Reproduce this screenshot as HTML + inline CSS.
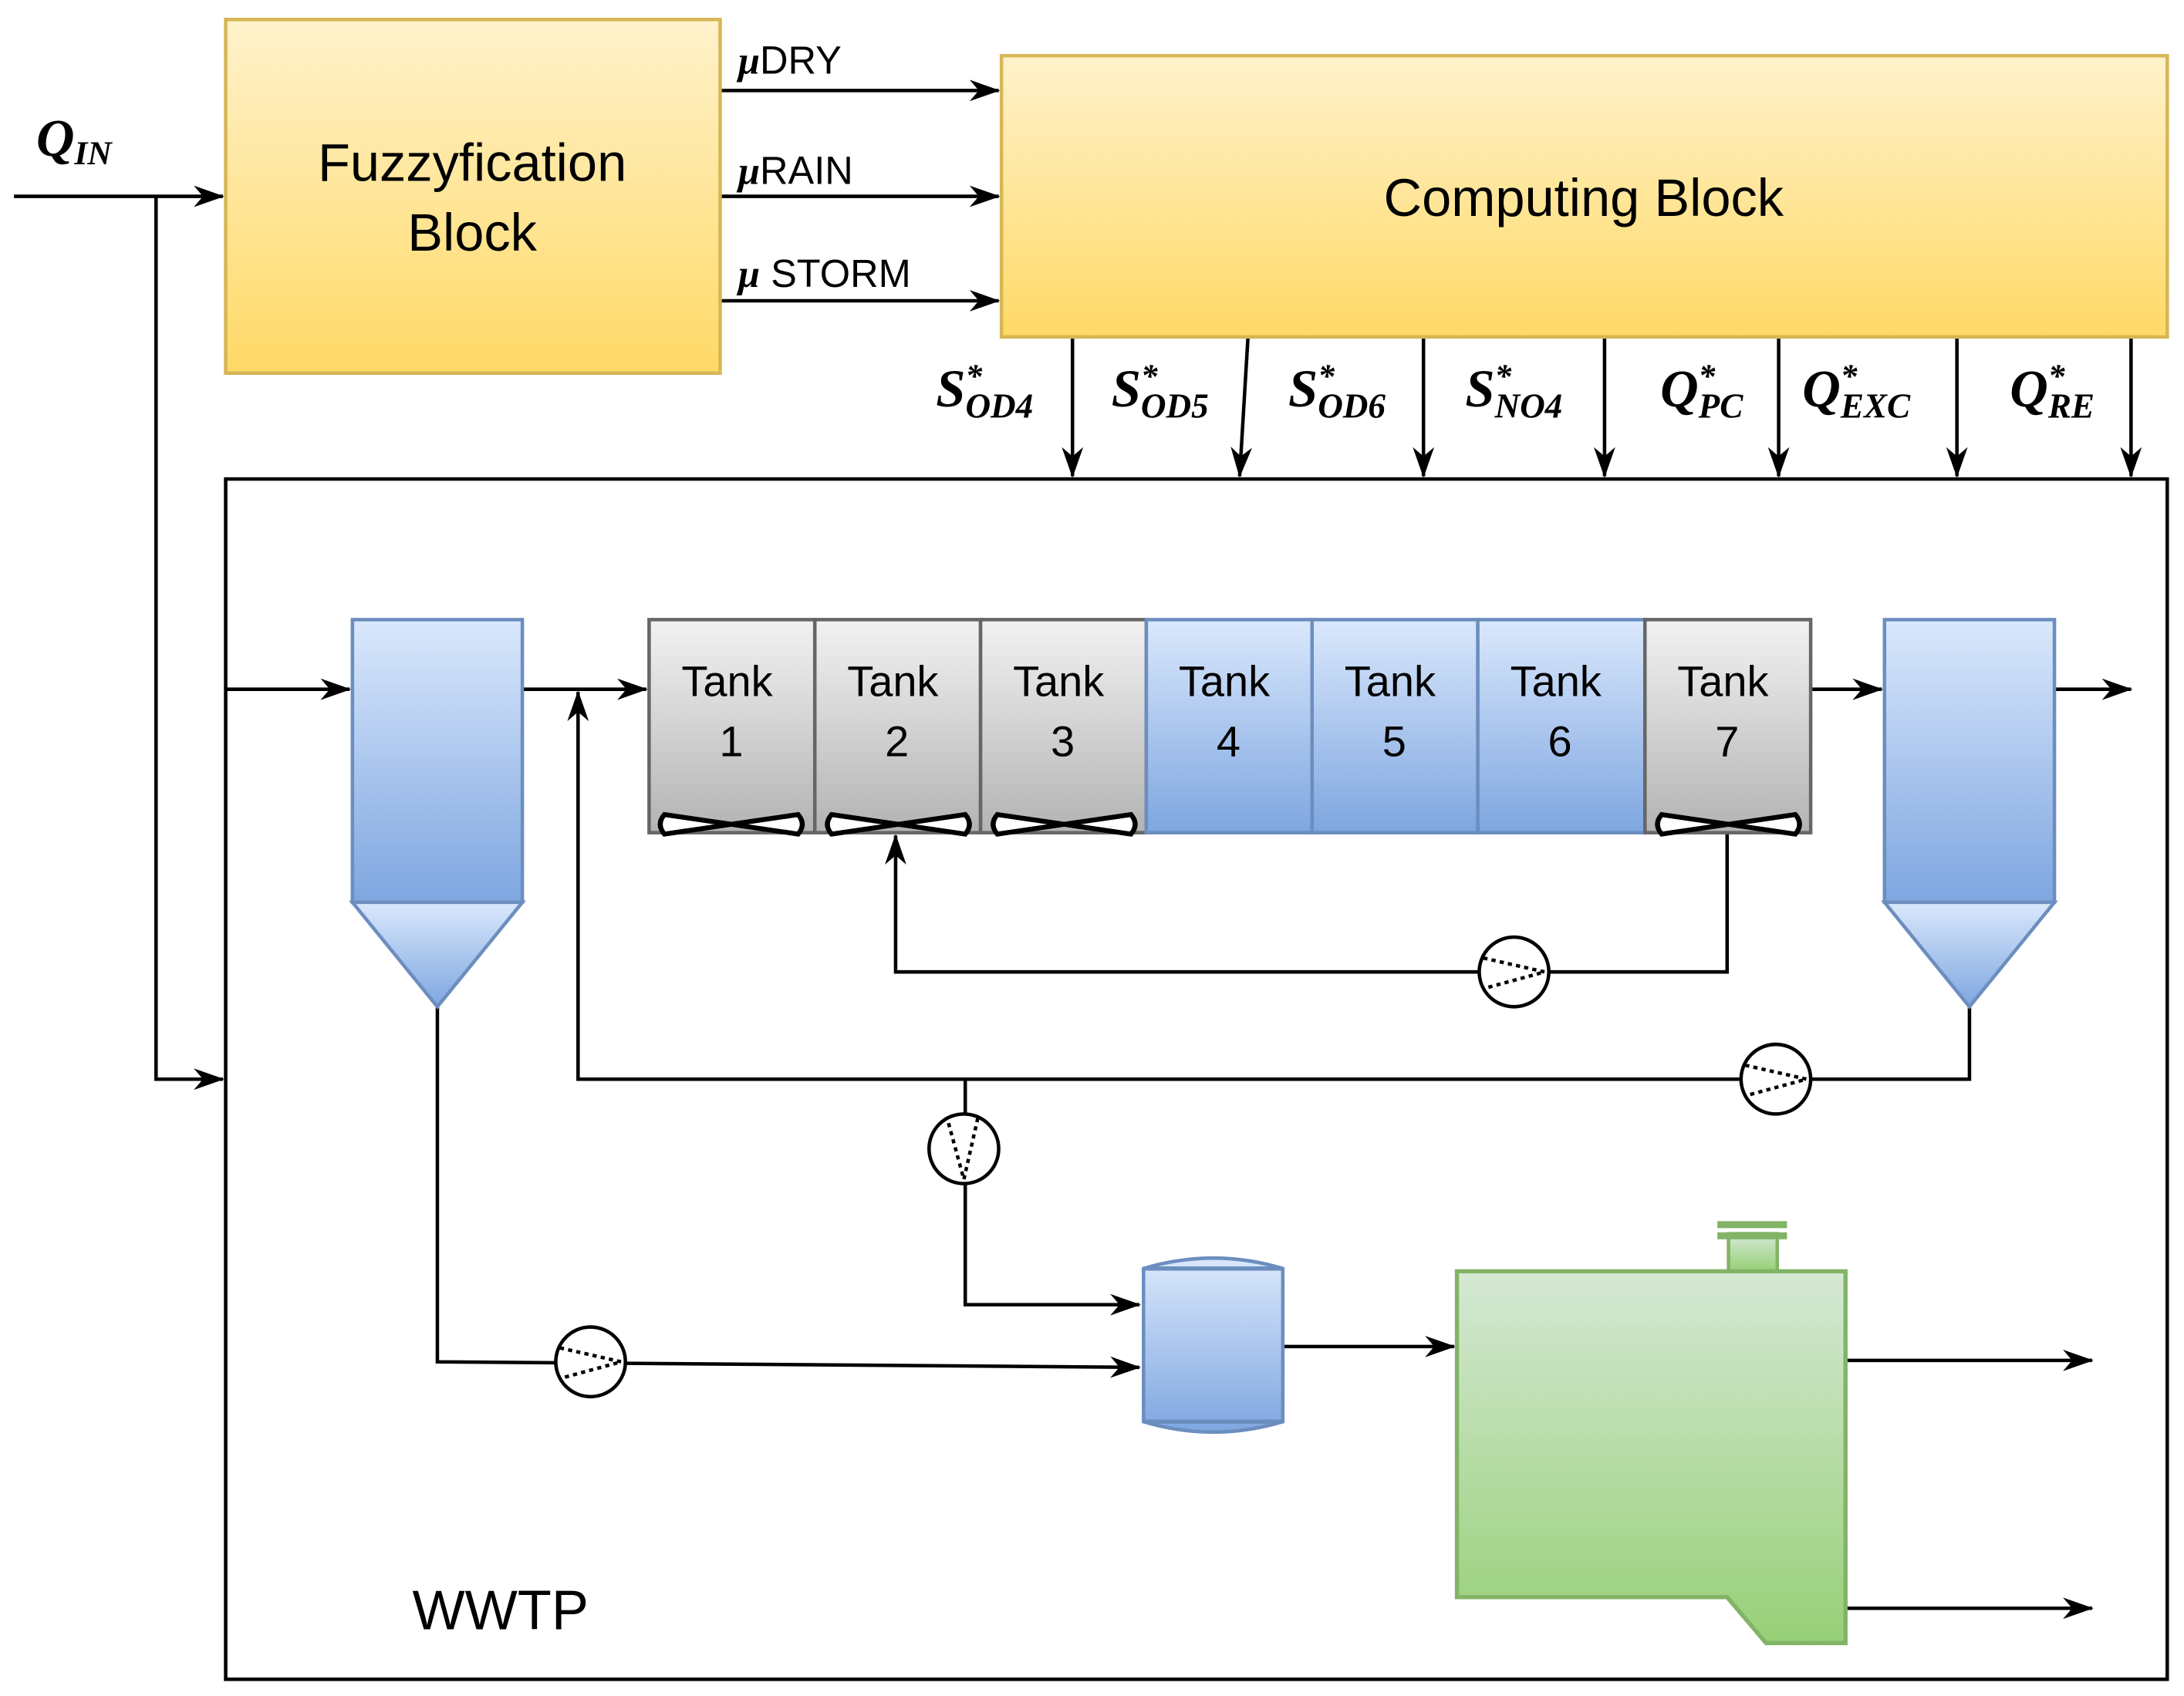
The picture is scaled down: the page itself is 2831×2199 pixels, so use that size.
<!DOCTYPE html>
<html><head><meta charset="utf-8"><style>html,body{margin:0;padding:0;background:#fff}svg{display:block}</style></head>
<body>
<svg width="2831" height="2199" viewBox="0 0 1568 1218" xmlns="http://www.w3.org/2000/svg" font-family="Liberation Sans, sans-serif">
<defs>
<linearGradient id="y" x1="0" y1="0" x2="0" y2="1"><stop offset="0" stop-color="#fff2cc"/><stop offset="1" stop-color="#ffd966"/></linearGradient>
<linearGradient id="b" x1="0" y1="0" x2="0" y2="1"><stop offset="0" stop-color="#dae8fc"/><stop offset="1" stop-color="#7ea6e0"/></linearGradient>
<linearGradient id="g" x1="0" y1="0" x2="0" y2="1"><stop offset="0" stop-color="#f2f2f2"/><stop offset="1" stop-color="#b3b3b3"/></linearGradient>
<linearGradient id="gr" x1="0" y1="0" x2="0" y2="1"><stop offset="0" stop-color="#d5e8d4"/><stop offset="1" stop-color="#97d077"/></linearGradient>
<marker id="a" viewBox="0 0 10 10" refX="9.5" refY="5" markerWidth="22" markerHeight="22" markerUnits="userSpaceOnUse" orient="auto"><path d="M0,1.5 L10,5 L0,8.5 L3,5z" fill="#000"/></marker>
<symbol id="pump" viewBox="-26 -26 52 52" overflow="visible"><circle r="25" fill="#fff" stroke="#000" stroke-width="2.5"/><path d="M-22,-10 L22,0 L-22,12" fill="none" stroke="#000" stroke-width="2.5" stroke-dasharray="3,3"/></symbol>
</defs>
<g stroke="#000" stroke-width="2.5" fill="none">
<path d="M10,141 H160" marker-end="url(#a)"/>
<path d="M112,141 V775 H160" marker-end="url(#a)"/>
<path d="M517,65 H717" marker-end="url(#a)"/>
<path d="M517,141 H717" marker-end="url(#a)"/>
<path d="M517,216 H717" marker-end="url(#a)"/>
<path d="M770,242 V342" marker-end="url(#a)"/>
<path d="M896,242 L890,342" marker-end="url(#a)"/>
<path d="M1022,242 V342" marker-end="url(#a)"/>
<path d="M1152,242 V342" marker-end="url(#a)"/>
<path d="M1277,242 V342" marker-end="url(#a)"/>
<path d="M1405,242 V342" marker-end="url(#a)"/>
<path d="M1530,242 V342" marker-end="url(#a)"/>
</g>
<rect x="162" y="14" width="355" height="254" fill="url(#y)" stroke="#d6b656" stroke-width="2.5"/>
<text x="339" y="130" font-size="38" text-anchor="middle">Fuzzyfication</text>
<text x="339" y="180" font-size="38" text-anchor="middle">Block</text>
<rect x="719" y="40" width="837" height="202" fill="url(#y)" stroke="#d6b656" stroke-width="2.5"/>
<text x="1137" y="155" font-size="38" text-anchor="middle">Computing Block</text>
<g font-size="28">
<text x="530" y="53"><tspan font-family="Liberation Serif, serif" font-style="italic" font-weight="bold">μ</tspan>DRY</text>
<text x="530" y="132"><tspan font-family="Liberation Serif, serif" font-style="italic" font-weight="bold">μ</tspan>RAIN</text>
<text x="530" y="206"><tspan font-family="Liberation Serif, serif" font-style="italic" font-weight="bold">μ</tspan> STORM</text>
</g>
<g font-family="Liberation Serif, serif" font-style="italic" font-weight="bold" font-size="38">
<text x="26" y="112">Q<tspan font-size="24" dy="6">IN</tspan></text>
<text x="672" y="292">S<tspan font-size="24" dy="-14">*</tspan><tspan font-size="25" dx="-12" dy="22">OD4</tspan></text>
<text x="798" y="292">S<tspan font-size="24" dy="-14">*</tspan><tspan font-size="25" dx="-12" dy="22">OD5</tspan></text>
<text x="925" y="292">S<tspan font-size="24" dy="-14">*</tspan><tspan font-size="25" dx="-12" dy="22">OD6</tspan></text>
<text x="1052" y="292">S<tspan font-size="24" dy="-14">*</tspan><tspan font-size="25" dx="-12" dy="22">NO4</tspan></text>
<text x="1192" y="292">Q<tspan font-size="24" dy="-14">*</tspan><tspan font-size="25" dx="-12" dy="22">PC</tspan></text>
<text x="1294" y="292">Q<tspan font-size="24" dy="-14">*</tspan><tspan font-size="25" dx="-12" dy="22">EXC</tspan></text>
<text x="1443" y="292">Q<tspan font-size="24" dy="-14">*</tspan><tspan font-size="25" dx="-12" dy="22">RE</tspan></text>
</g>
<rect x="162" y="344" width="1394" height="862" fill="none" stroke="#000" stroke-width="2.5"/>
<text x="296" y="1170" font-size="40">WWTP</text>
<g stroke="#000" stroke-width="2.5" fill="none">
<path d="M162,495 H251" marker-end="url(#a)"/>
<path d="M375,495 H464" marker-end="url(#a)"/>
<path d="M1300,495 H1351" marker-end="url(#a)"/>
<path d="M1475,495 H1530" marker-end="url(#a)"/>
<path d="M1240,598 V698 H643 V600" marker-end="url(#a)"/>
<path d="M1414,723 V775 H415 V497" marker-end="url(#a)"/>
<path d="M693,775 V937 H818" marker-end="url(#a)"/>
<path d="M314,723 V978 L818,982" marker-end="url(#a)"/>
<path d="M922,967 H1044" marker-end="url(#a)"/>
<path d="M1325,977 H1502" marker-end="url(#a)"/>
<path d="M1325,1155 H1502" marker-end="url(#a)"/>
</g>
<rect x="253" y="445" width="122" height="203" fill="url(#b)" stroke="#6c8ebf" stroke-width="2.5"/>
<path d="M253,648 H375 L314,723z" fill="url(#b)" stroke="#6c8ebf" stroke-width="2.5"/>
<rect x="1353" y="445" width="122" height="203" fill="url(#b)" stroke="#6c8ebf" stroke-width="2.5"/>
<path d="M1353,648 H1475 L1414,723z" fill="url(#b)" stroke="#6c8ebf" stroke-width="2.5"/>
<g stroke-width="2.5">
<rect x="466" y="445" width="119" height="153" fill="url(#g)" stroke="#666"/>
<rect x="585" y="445" width="119" height="153" fill="url(#g)" stroke="#666"/>
<rect x="704" y="445" width="119" height="153" fill="url(#g)" stroke="#666"/>
<rect x="823" y="445" width="119" height="153" fill="url(#b)" stroke="#6c8ebf"/>
<rect x="942" y="445" width="119" height="153" fill="url(#b)" stroke="#6c8ebf"/>
<rect x="1061" y="445" width="120" height="153" fill="url(#b)" stroke="#6c8ebf"/>
<rect x="1181" y="445" width="119" height="153" fill="url(#g)" stroke="#666"/>
</g>
<g font-size="31" text-anchor="middle">
<text x="522" y="500">Tank</text><text x="525" y="543">1</text>
<text x="641" y="500">Tank</text><text x="644" y="543">2</text>
<text x="760" y="500">Tank</text><text x="763" y="543">3</text>
<text x="879" y="500">Tank</text><text x="882" y="543">4</text>
<text x="998" y="500">Tank</text><text x="1001" y="543">5</text>
<text x="1117" y="500">Tank</text><text x="1120" y="543">6</text>
<text x="1237" y="500">Tank</text><text x="1240" y="543">7</text>
</g>
<g fill="#fff" stroke="#000" stroke-width="3.5">
<path d="M477,585 L525,592 L573,585 Q579,592 573,599 L525,592 L477,599 Q471,592 477,585z"/>
<path d="M597,585 L645,592 L693,585 Q699,592 693,599 L645,592 L597,599 Q591,592 597,585z"/>
<path d="M716,585 L764,592 L812,585 Q818,592 812,599 L764,592 L716,599 Q710,592 716,585z"/>
<path d="M1193,585 L1241,592 L1289,585 Q1295,592 1289,599 L1241,592 L1193,599 Q1187,592 1193,585z"/>
</g>
<use href="#pump" x="1061" y="672" width="52" height="52"/>
<use href="#pump" x="1249" y="749" width="52" height="52"/>
<use href="#pump" x="666" y="799" width="52" height="52" transform="rotate(90 692 825)"/>
<use href="#pump" x="398" y="952" width="52" height="52"/>
<path d="M821,911 Q871,896 921,911 V1021 Q871,1036 821,1021z" fill="url(#b)" stroke="#6c8ebf" stroke-width="2.5"/>
<path d="M821,911 H921 M821,1021 H921" stroke="#6c8ebf" stroke-width="3"/>
<rect x="1241" y="886" width="35" height="27" fill="url(#gr)" stroke="#82b366" stroke-width="2.5"/>
<rect x="1233" y="877" width="50" height="5" fill="#82b366"/>
<rect x="1233" y="885" width="50" height="5" fill="#82b366"/>
<path d="M1046,913 H1325 V1180 H1268 L1240,1147 H1046z" fill="url(#gr)" stroke="#82b366" stroke-width="3"/>
</svg>
</body></html>
